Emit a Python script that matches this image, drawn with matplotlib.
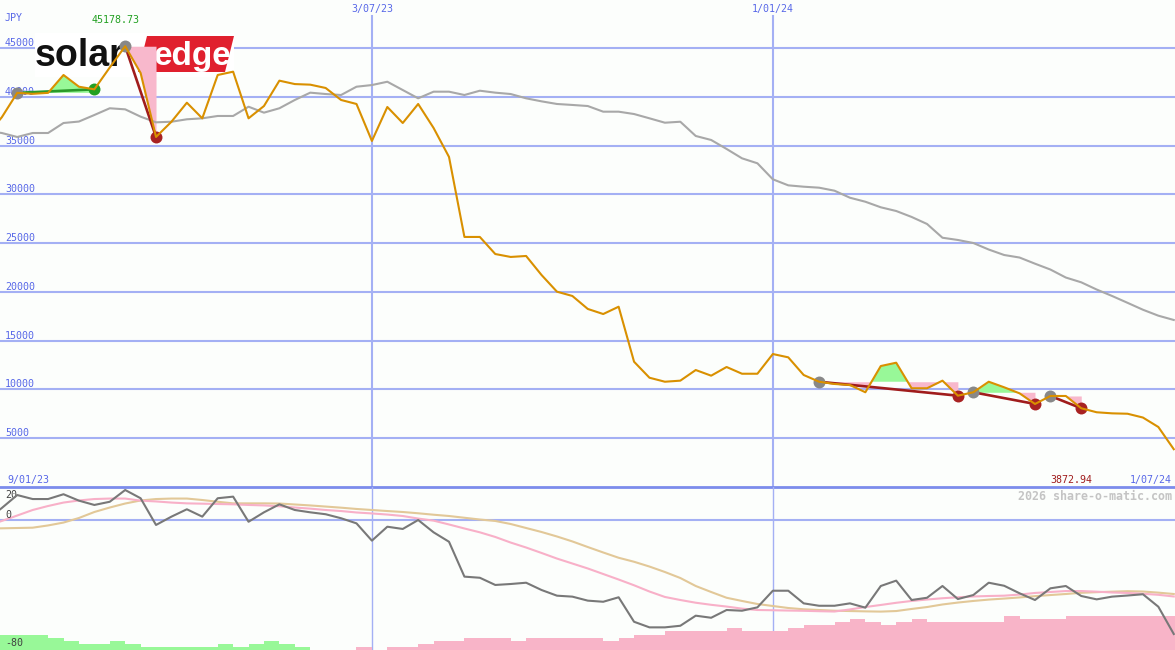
import numpy as np
import pandas as pd
import matplotlib
matplotlib.use("Agg")
import matplotlib.pyplot as plt
from matplotlib.transforms import blended_transform_factory
from matplotlib.patches import Polygon, Rectangle

# ---------------- data ----------------
dates = pd.date_range("2023-01-09", periods=78, freq="7D")

price = [36000, 37900, 40400, 40300, 40400, 42230, 41030, 40760, 43000, 45178.73,
         42440, 35880, 37440, 39390, 37790, 42230, 42570, 37790, 39050, 41650,
         41300, 41240, 40900, 39670, 39260, 35470, 38950, 37310, 39260, 36800,
         33830, 25630, 25630, 23880, 23580, 23680, 21730, 20020, 19580, 18250,
         17730, 18480, 12840, 11200, 10790, 10900, 11990, 11410, 12300, 11610,
         11610, 13630, 13290, 11480, 10790, 10560, 10455, 9710, 12400, 12740,
         10120, 10120, 10900, 9360, 9710, 10790, 10220, 9600, 8510, 9330,
         9330, 8070, 7660, 7550, 7510, 7120, 6150, 3872.94]

moving_avg = [36500, 36285, 35875, 36285, 36285, 37310, 37460, 38130, 38820, 38710,
              37960, 37380, 37440, 37690, 37790, 38030, 38030, 38980, 38370, 38820,
              39670, 40420, 40280, 40180, 41030, 41200, 41540, 40690, 39840, 40520,
              40520, 40180, 40620, 40420, 40280, 39840, 39530, 39260, 39160, 39050,
              38470, 38470, 38230, 37790, 37340, 37440, 35980, 35570, 34650, 33690,
              33180, 31540, 30920, 30780, 30680, 30370, 29650, 29240, 28670, 28290,
              27680, 26960, 25550, 25320, 25010, 24340, 23780, 23520, 22890, 22290,
              21470, 20980, 20240, 19580, 18880, 18170, 17560, 17120]

oscillator = [0, 7.5, 15.6, 13.1, 13.1, 16.1, 12.1, 9.4, 11.4, 18.75,
              13.6, -3.1, 2.1, 6.7, 2.1, 13.6, 14.6, -1.1, 4.8, 9.8,
              6.25, 4.8, 3.6, 1.1, -2.1, -12.9, -4.2, -5.6, 0, -7.7,
              -13.6, -35.4, -36.1, -40.6, -40, -39.2, -43.75, -47.3, -47.9, -50.4,
              -51.1, -48.3, -63.6, -67.1, -67.1, -66.1, -59.8, -61.1, -56.25, -56.7,
              -54.6, -44.2, -44.2, -52.1, -53.6, -53.6, -52.1, -54.8, -41.25, -37.9,
              -50, -48.6, -41.25, -49.4, -46.9, -39.2, -41.1, -45.8, -50, -42.7,
              -41.25, -47.5, -49.6, -47.9, -47.2, -46.4, -54.2, -71.25]

osc_fast = [-3.75, -0.6, 2.8, 6.25, 8.75, 10.9, 12.2, 13.1, 13.4, 13.4,
            12.1, 11.6, 10.9, 10.4, 10.2, 10, 9.8, 9.4, 9.1, 8.6,
            7.8, 7.1, 6.25, 5.6, 4.7, 4.1, 3.4, 2.5, 0.9, -0.4,
            -2.8, -5.3, -7.7, -10.6, -14.1, -17.2, -20.6, -24.1, -27.2, -30.3,
            -33.75, -37.2, -40.8, -44.7, -48.1, -50, -51.7, -53, -54.1, -55.4,
            -56.25, -56.4, -56.6, -56.75, -57, -57.2, -55.9, -54.4, -53.1, -51.75,
            -50.6, -49.7, -48.9, -48.3, -47.8, -47.5, -47.3, -46.6, -45.6, -45,
            -44.4, -44.4, -44.8, -45.3, -45.6, -46.1, -46.75, -47.8]

osc_slow = [-5.3, -5.2, -5, -4.8, -3.4, -1.6, 1.25, 5, 7.8, 10.3,
            12.2, 13.1, 13.4, 13.4, 12.5, 11.4, 10.4, 10.4, 10.4, 10.3,
            9.7, 9.1, 8.4, 7.7, 6.9, 6.25, 5.6, 5, 4.2, 3.3,
            2.5, 1.4, 0.3, -0.6, -2.5, -5, -7.5, -10.3, -13.4, -16.9,
            -20.3, -23.6, -26.1, -29.1, -32.5, -36.25, -41.25, -45, -48.6, -50.6,
            -52.5, -53.75, -55, -55.8, -56.25, -56.7, -56.9, -57.1, -57.25, -56.9,
            -55.6, -54.4, -52.8, -51.6, -50.6, -49.75, -49.1, -48.4, -47.6, -46.9,
            -46.25, -45.5, -45.1, -44.8, -44.5, -44.7, -45.4, -46.25]

bars = [9.4, 9.4, 9.4, 9.4, 7.3, 5.6, 3.75, 3.75, 5.6, 3.75,
        2.1, 2.1, 2.1, 2.1, 2.1, 3.75, 2.1, 3.75, 5.6, 3.75,
        2.1, 0, 0, 0, -2.1, 0, -2.1, -2.1, -3.75, -5.6,
        -5.6, -7.3, -7.3, -7.3, -5.6, -7.3, -7.3, -7.3, -7.3, -7.3,
        -5.6, -7.3, -9.4, -9.4, -11.9, -11.9, -11.9, -11.9, -13.9, -11.9,
        -11.9, -11.9, -13.9, -15.6, -15.6, -17.7, -19.4, -17.7, -15.6, -17.7,
        -19.4, -17.7, -17.7, -17.7, -17.7, -17.7, -21.4, -19.4, -19.4, -19.4,
        -21.4, -21.4, -21.4, -21.4, -21.4, -21.4, -21.4, -21.4]

trend_start = [2, 9, 54, 64, 69]
trend_end = [7, 11, 63, 68, 71]

yticks_main = [5000, 10000, 15000, 20000, 25000, 30000, 35000, 40000, 45000]
vline_dates = ["2023-07-03", "2024-01-01"]
currency = "JPY"
credit = "2026 share-o-matic.com"

# ---------------- styling ----------------
W, H = 1175, 650
BG = "#fcfefc"
GRID = "#a4b0f4"
SEP = "#7c8cec"
BLUE_TXT = "#5868e8"
ORANGE = "#d99000"
MA_GRAY = "#a8a8a8"
OSC_GRAY = "#787878"
PINK_LINE = "#f8b0c8"
TAN_LINE = "#e2c898"
GREEN_FILL = "#98f898"
PINK_FILL = "#f8b8cc"
MONO = "DejaVu Sans Mono"

price = np.array(price, float)
x = ((dates - dates[0]).days / 7.0).to_numpy()
xlim = (0.882, 77.08)
px = 2.0 * 72 / 100 / 2  # 1px in points

fig = plt.figure(figsize=(W / 100, H / 100), dpi=100, facecolor=BG)
ax = fig.add_axes([0, 163 / H, 1, 487 / H])
axl = fig.add_axes([0, 0, 1, 163 / H])
for a in (ax, axl):
    a.set_facecolor(BG)
    a.set_xlim(*xlim)
    a.axis("off")
ax.set_ylim(0, 487 * 102.5)
axl.set_ylim(-81.25, 20.625)

# ---------------- main panel ----------------
for v in yticks_main:
    ax.axhline(v, color=GRID, lw=1.5, zorder=1)
    ax.text(5 / W, v, f"{v}", transform=blended_transform_factory(ax.transAxes, ax.transData),
            fontsize=7.2, family=MONO, color=BLUE_TXT, va="bottom", ha="left", zorder=1)
ax.axhline(0, color=SEP, lw=2.0, zorder=6, clip_on=False)

vx = [((pd.Timestamp(d) - dates[0]).days / 7.0) for d in vline_dates]
for d, xv in zip(vline_dates, vx):
    ts = pd.Timestamp(d)
    ax.axvline(xv, ymin=0, ymax=(487 - 16) / 487, color=GRID, lw=1.5, zorder=1)
    axl.axvline(xv, color=GRID, lw=1.0, zorder=1)
    ax.text(xv, 1 - 9 / 487, f"{ts.day}/{ts.month:02d}/{ts:%y}", transform=blended_transform_factory(ax.transData, ax.transAxes),
            fontsize=7.2, family=MONO, color=BLUE_TXT, va="center", ha="center")

# logo (drawn under the data)
def fxy(xp, yp):
    return (xp / W, 1 - yp / H)

ax.add_patch(Rectangle(fxy(35, 77), 199 / W, 44 / H, transform=fig.transFigure,
                       facecolor="white", edgecolor="none", zorder=1.5))
ax.add_patch(Polygon([fxy(147, 36), fxy(234, 36), fxy(225, 72), fxy(138, 72)], closed=True,
                     transform=fig.transFigure, facecolor="#e0202e", edgecolor="none", zorder=1.6))
ax.text(*fxy(35, 65.5), "solar", transform=fig.transFigure, fontsize=27, fontweight="bold",
        family="Liberation Sans", color="#111111", va="baseline", ha="left", zorder=1.7)
ax.text(*fxy(154, 65.5), "edge", transform=fig.transFigure, fontsize=24, fontweight="bold",
        family="Liberation Sans", color="white", va="baseline", ha="left", zorder=1.7)

ax.plot(x, moving_avg, color=MA_GRAY, lw=1.5, zorder=3)

# trend segments with fills
for s, e in zip(trend_start, trend_end):
    xs = np.linspace(x[s], x[e], 300)
    ys = np.interp(xs, x, price)
    level = price[s]
    tr = np.interp(xs, [x[s], x[e]], [price[s], price[e]])
    ax.fill_between(xs, level, ys, where=ys >= level, interpolate=True,
                    color=GREEN_FILL, lw=0, zorder=2)
    low = np.minimum(level, np.maximum(ys, tr))
    ax.fill_between(xs, level, low, color=PINK_FILL, lw=0, zorder=2)
    up = price[e] > price[s]
    ax.plot([x[s], x[e]], [price[s], price[e]], color="#2a9a2a" if up else "#a01c1c",
            lw=1.9, zorder=4)
    ax.plot([x[s]], [price[s]], "o", ms=8.6, mew=0, color="#888888", zorder=5)
    ax.plot([x[e]], [price[e]], "o", ms=8.6, mew=0, color="#22a022" if up else "#a82222", zorder=5)

ax.plot(x, price, color=ORANGE, lw=1.5, zorder=6)

imax = int(np.argmax(price))
imin = int(np.argmin(price))
ax.text(x[imax], 1 - 20 / 487, f"{price[imax]:.2f}", transform=blended_transform_factory(ax.transData, ax.transAxes),
        fontsize=7.2, family=MONO, color="#22a022", va="center", ha="center",
        )
ax.texts[-1].set_position((x[imax] - 0.6, 1 - 20 / 487))
ax.text(5 / W, 1 - 18 / 487, currency, transform=ax.transAxes, fontsize=7.2, family=MONO,
        color=BLUE_TXT, va="center", ha="left")
ax.text(1092 / W, 7 / 487, f"{price[imin]:.2f}", transform=ax.transAxes, fontsize=7.2, family=MONO,
        color="#a01c1c", va="center", ha="right")
d0, d1 = dates[0], dates[-1]
ax.text(7 / W, 7 / 487, f"{d0.day}/{d0.month:02d}/{d0:%y}", transform=ax.transAxes, fontsize=7.2,
        family=MONO, color=BLUE_TXT, va="center", ha="left")
ax.text(1172 / W, 7 / 487, f"{d1.day}/{d1.month:02d}/{d1:%y}", transform=ax.transAxes, fontsize=7.2,
        family=MONO, color=BLUE_TXT, va="center", ha="right")

# ---------------- lower panel ----------------
axl.axhline(0, color=GRID, lw=1.5, zorder=1)
bars = np.array(bars)
axl.bar(x, np.abs(bars), width=1.0, align="edge", bottom=-81.25,
        color=np.where(bars >= 0, "#98f898", "#f8b4c8"), lw=0, zorder=2)
axl.plot(x, osc_slow, color=TAN_LINE, lw=1.5, zorder=3)
axl.plot(x, osc_fast, color=PINK_LINE, lw=1.5, zorder=3)
axl.plot(x, oscillator, color=OSC_GRAY, lw=1.5, zorder=4)

axl.text(5 / W, (520 - 495) / 1.6, "20", transform=blended_transform_factory(axl.transAxes, axl.transData),
         fontsize=7.2, family=MONO, color="#404040", va="center", ha="left")
axl.text(5 / W, 0, "0", transform=blended_transform_factory(axl.transAxes, axl.transData),
         fontsize=7.2, family=MONO, color="#404040", va="bottom", ha="left")
axl.text(5 / W, -80, "-80", transform=blended_transform_factory(axl.transAxes, axl.transData),
         fontsize=7.2, family=MONO, color="#404040", va="bottom", ha="left", zorder=5)
axl.text(1172 / W, (520 - 496) / 1.6, credit, transform=blended_transform_factory(axl.transAxes, axl.transData),
         fontsize=8.4, family=MONO, fontweight="bold", color="#c4c4c4", va="center", ha="right")

fig.savefig("out.png", dpi=100, facecolor=BG)
